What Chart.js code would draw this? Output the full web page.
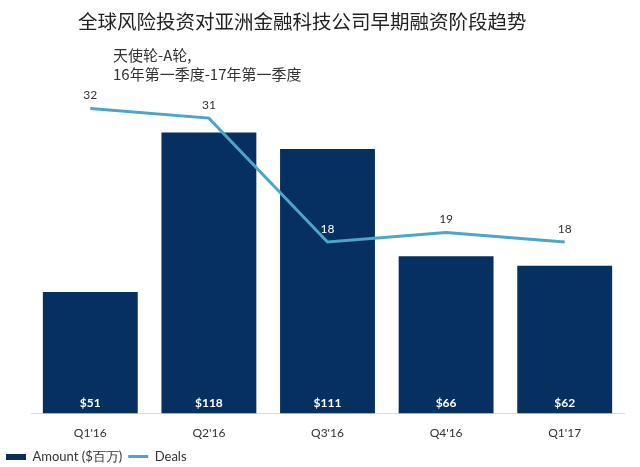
<!DOCTYPE html>
<html>
<head>
<meta charset="utf-8">
<script src="https://cdn.jsdelivr.net/npm/chart.js@4.4.1/dist/chart.umd.min.js"></script>
<style>
    html, body { margin: 0; padding: 0; background: #fff; }
    #wrap { width: 640px; height: 467px; position: relative; }
</style>
</head>
<body>
<div id="wrap"><canvas id="fundingChart"></canvas></div>
<script>
const quarters = ["Q1'16", "Q2'16", "Q3'16", "Q4'16", "Q1'17"];
const amounts = [51, 118, 111, 66, 62];
const deals = [32, 31, 18, 19, 18];

const titleText = '全球风险投资对亚洲金融科技公司早期融资阶段趋势';
const subtitleLines = ['天使轮-A轮,', '16年第一季度-17年第一季度'];

const barColor = '#06305f';
const lineColor = '#4ba6ca';
const cjk = '"Noto Sans CJK SC", "Noto Sans", sans-serif';
const latin = 'Lato, "Noto Sans", sans-serif';

// small swatch used as the legend marker for the bars
const swatch = document.createElement('canvas');
swatch.width = 20;
swatch.height = 6;
const sctx = swatch.getContext('2d');
sctx.fillStyle = barColor;
sctx.fillRect(0, 0, 20, 6);

const headerPlugin = {
    id: 'header',
    afterDraw(chart) {
        const ctx = chart.ctx;
        ctx.save();
        ctx.textBaseline = 'middle';
        ctx.textAlign = 'left';
        ctx.fillStyle = '#222';
        ctx.font = '19.5px ' + cjk;
        ctx.fillText(titleText, 78, 22);
        ctx.fillStyle = '#333';
        ctx.font = '15px ' + cjk;
        ctx.fillText(subtitleLines[0], 113, 55);
        ctx.fillText(subtitleLines[1], 113, 74);
        ctx.restore();
    }
};

const labelPlugin = {
    id: 'valueLabels',
    afterDatasetsDraw(chart) {
        const ctx = chart.ctx;
        ctx.save();
        ctx.textAlign = 'center';
        ctx.textBaseline = 'middle';

        const barMeta = chart.getDatasetMeta(1);
        ctx.fillStyle = '#ffffff';
        ctx.font = 'bold 12px ' + latin;
        barMeta.data.forEach((bar, i) => {
            ctx.fillText('$' + amounts[i], bar.x, bar.base - 10);
        });

        const lineMeta = chart.getDatasetMeta(0);
        ctx.font = '12px ' + latin;
        lineMeta.data.forEach((pt, i) => {
            const y = pt.y - 13;
            // a label that sits over its bar is written in white
            ctx.fillStyle = y > barMeta.data[i].y ? '#ffffff' : '#333';
            ctx.fillText(String(deals[i]), pt.x, y);
        });
        ctx.restore();
    }
};

new Chart(document.getElementById('fundingChart'), {
    data: {
        labels: quarters,
        datasets: [
            {
                type: 'line',
                label: 'Deals',
                data: deals,
                yAxisID: 'yDeals',
                borderColor: lineColor,
                backgroundColor: lineColor,
                borderWidth: 3,
                pointRadius: 0,
                tension: 0,
                order: 0
            },
            {
                type: 'bar',
                label: 'Amount ($百万)',
                data: amounts,
                yAxisID: 'yAmount',
                backgroundColor: barColor,
                categoryPercentage: 1,
                barPercentage: 0.8,
                order: 1
            }
        ]
    },
    options: {
        responsive: true,
        maintainAspectRatio: false,
        animation: false,
        layout: {
            padding: { top: 80, left: 0, right: 16, bottom: -6 }
        },
        scales: {
            x: {
                grid: { display: false },
                border: { display: true, color: '#dddddd', width: 1 },
                ticks: {
                    color: '#333',
                    font: { family: latin, size: 12 },
                    padding: 4
                }
            },
            yAmount: {
                position: 'left',
                min: 0,
                max: 140,
                grid: { display: false },
                border: { display: false },
                ticks: { display: false },
                afterFit(scale) {
                    scale.width = 31;
                }
            },
            yDeals: {
                display: false,
                min: 0,
                max: 35
            }
        },
        plugins: {
            tooltip: { enabled: false },
            legend: {
                position: 'bottom',
                align: 'start',
                reverse: true,
                labels: {
                    usePointStyle: true,
                    pointStyleWidth: 20,
                    boxHeight: 8,
                    color: '#333',
                    font: { family: latin, size: 13 },
                    padding: 6,
                    generateLabels(chart) {
                        return chart.data.datasets.map((ds, i) => ({
                            text: ds.label,
                            datasetIndex: i,
                            fillStyle: ds.backgroundColor,
                            strokeStyle: ds.type === 'line' ? lineColor : barColor,
                            lineWidth: ds.type === 'line' ? 3 : 0,
                            pointStyle: ds.type === 'line' ? 'line' : swatch,
                            fontColor: '#333'
                        }));
                    }
                }
            }
        }
    },
    plugins: [headerPlugin, labelPlugin]
});
</script>
</body>
</html>
